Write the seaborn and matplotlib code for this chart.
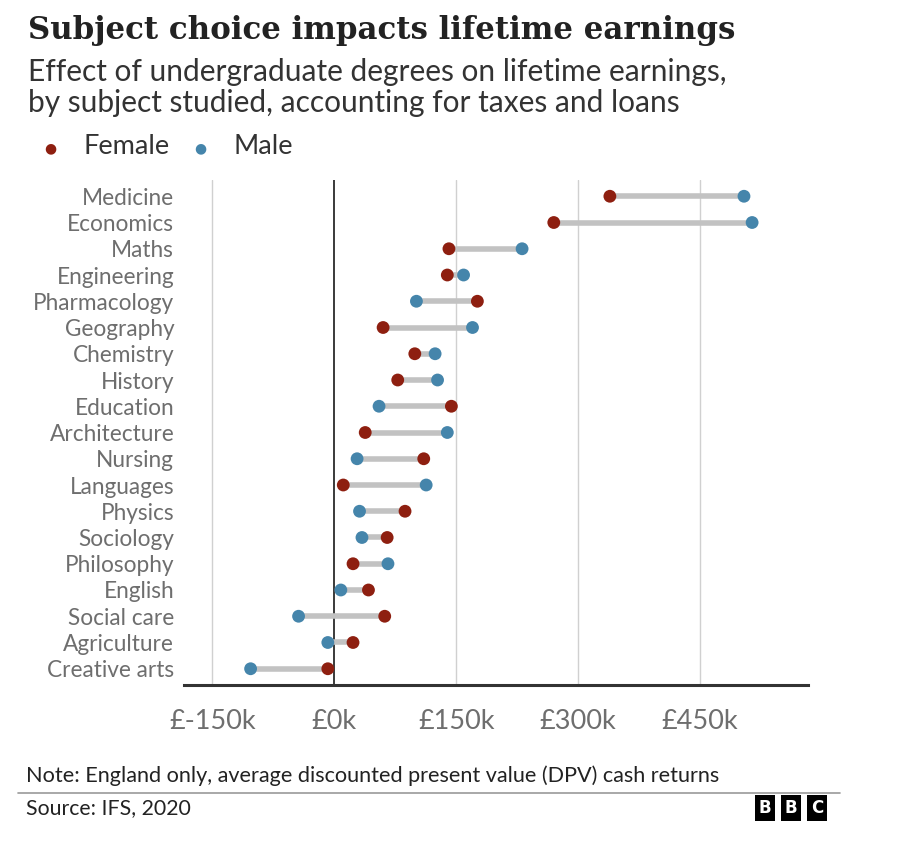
import numpy as np
import pandas as pd
import matplotlib.pyplot as plt
import seaborn as sns

# Lifetime earnings effect (£k)
subjects = ['Medicine', 'Economics', 'Maths', 'Engineering', 'Pharmacology',
            'Geography', 'Chemistry', 'History', 'Education', 'Architecture',
            'Nursing', 'Languages', 'Physics', 'Sociology', 'Philosophy',
            'English', 'Social care', 'Agriculture', 'Creative arts']
female = [339, 270, 141, 139, 176, 60, 99, 78, 144, 38,
          110, 11, 87, 65, 23, 42, 62, 23, -8]
male = [504, 514, 231, 159, 101, 170, 124, 127, 55, 139,
        28, 113, 31, 34, 66, 8, -44, -8, -103]
ticks = [-150, 0, 150, 300, 450]
tick_labels = ['£-150k', '£0k', '£150k', '£300k', '£450k']

FEMALE_C = '#8e1f10'
MALE_C = '#4585ab'
GREY_TXT = '#6e6e6e'

sns.set_theme(style="white")
plt.rcParams['font.family'] = ['Lato', 'DejaVu Sans']

df = pd.DataFrame({'subject': subjects, 'Female': female, 'Male': male})
long = df.melt(id_vars='subject', var_name='sex', value_name='value')

fig = plt.figure(figsize=(9, 8.43), dpi=100)
ax = fig.add_axes([0.2044, 0.1874, 0.6936, 0.5991])

# grid lines
for t in ticks:
    if t == 0:
        ax.axvline(t, color='#2b2b2b', lw=1.3, zorder=1)
    else:
        ax.axvline(t, color='#d0d0d0', lw=1.0, zorder=0)

# connectors
ypos = np.arange(len(subjects))
ax.hlines(ypos, df['Female'], df['Male'], color='#c2c2c2', lw=4, zorder=2)

sns.scatterplot(data=long, x='value', y='subject', hue='sex',
                palette={'Female': FEMALE_C, 'Male': MALE_C},
                s=85, edgecolor='none', zorder=3, legend=False, ax=ax)

ax.set_xlim(-185, 583)
ax.set_ylim(18.62, -0.62)
ax.set_xticks(ticks)
ax.set_xticklabels(tick_labels, fontsize=19.5, color=GREY_TXT)
ax.set_yticks(ypos)
ax.set_yticklabels(subjects, fontsize=16.3, color=GREY_TXT)
ax.tick_params(axis='x', length=0, pad=17)
ax.tick_params(axis='y', length=0, pad=7)
ax.set_xlabel('')
ax.set_ylabel('')
for s in ['top', 'right', 'left']:
    ax.spines[s].set_visible(False)
ax.spines['bottom'].set_color('#333333')
ax.spines['bottom'].set_linewidth(2.2)

# titles
fig.text(0.031, 1 - 31 / 843, 'Subject choice impacts lifetime earnings',
         fontsize=22.2, fontweight='bold', family=['DejaVu Serif'],
         color='#222222', va='center', ha='left')
fig.text(0.031, 1 - 72 / 843, 'Effect of undergraduate degrees on lifetime earnings,',
         fontsize=21.5, color='#333333', va='center', ha='left')
fig.text(0.031, 1 - 103 / 843, 'by subject studied, accounting for taxes and loans',
         fontsize=21.5, color='#333333', va='center', ha='left')

# legend
fig.text(50 / 900, 1 - 148 / 843, '●', color=FEMALE_C, fontsize=10,
         ha='center', va='center', family=['DejaVu Sans'])
fig.text(83 / 900, 1 - 147 / 843, 'Female', fontsize=19.5, color='#333333',
         ha='left', va='center')
fig.text(200 / 900, 1 - 148 / 843, '●', color=MALE_C, fontsize=10,
         ha='center', va='center', family=['DejaVu Sans'])
fig.text(233 / 900, 1 - 147 / 843, 'Male', fontsize=19.5, color='#333333',
         ha='left', va='center')

# footer
fig.text(26 / 900, 1 - 776 / 843,
         'Note: England only, average discounted present value (DPV) cash returns',
         fontsize=15.6, color='#222222', ha='left', va='center')
fig.add_artist(plt.Line2D([18 / 900, 840 / 900], [1 - 793 / 843, 1 - 793 / 843],
                          color='#999999', lw=1.2))
fig.text(26 / 900, 1 - 808 / 843, 'Source: IFS, 2020', fontsize=15.3,
         color='#222222', ha='left', va='center')
for i, x in enumerate([765, 791, 817]):
    fig.text(x / 900, 1 - 808 / 843, 'BBC'[i], fontsize=12, fontweight='bold',
             color='white', ha='center', va='center', family=['DejaVu Sans'],
             bbox=dict(boxstyle='square,pad=0.25', fc='black', ec='none'))

fig.savefig('out.png', dpi=100)
